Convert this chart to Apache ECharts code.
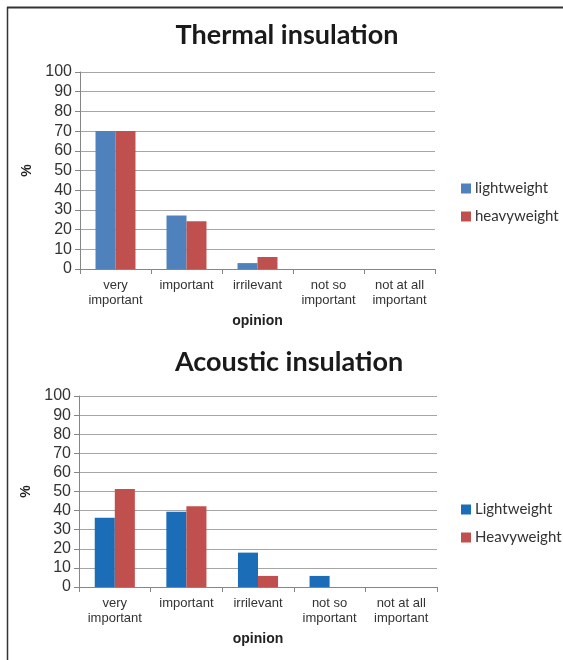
<!DOCTYPE html>
<html>
<head>
<meta charset="utf-8">
<script src="https://cdn.jsdelivr.net/npm/echarts@6/dist/echarts.min.js"></script>
<style>
html,body{margin:0;padding:0;background:#fff;}
#chart{width:563px;height:660px;}
</style>
</head>
<body>
<div id="chart"></div>
<script>
var categories = ['very\nimportant', 'important', 'irrilevant', 'not so\nimportant', 'not at all\nimportant'];
var yTicks = [0, 10, 20, 30, 40, 50, 60, 70, 80, 90, 100];
var thermalLight = [70, 27.2, 3, 0, 0];
var thermalHeavy = [70, 24.2, 6.1, 0, 0];
var acousticLight = [36.2, 39.4, 18, 5.8, 0];
var acousticHeavy = [51.3, 42.3, 5.8, 0, 0];
var topNames = ['lightweight', 'heavyweight'];
var bottomNames = ['Lightweight', 'Heavyweight'];

var chart = echarts.init(document.getElementById('chart'), null, {renderer: 'canvas'});

function xAxisDef(gi) {
  return {
    type: 'category', gridIndex: gi, data: categories,
    axisLine: {lineStyle: {color: '#868686', width: 1}},
    axisTick: {show: true, alignWithLabel: false, length: 5, lineStyle: {color: '#868686'}},
    axisLabel: {color: '#333', fontFamily: 'Liberation Sans', fontSize: 13, lineHeight: 15, margin: 9, interval: 0},
    name: 'opinion', nameLocation: 'middle', nameGap: 45,
    nameTextStyle: {fontFamily: 'Liberation Sans', fontWeight: 'bold', fontSize: 14, color: '#222'}
  };
}
function yAxisDef(gi) {
  return {
    type: 'value', gridIndex: gi, min: yTicks[0], max: yTicks[yTicks.length - 1], interval: 10,
    axisLine: {show: true, lineStyle: {color: '#868686', width: 1}},
    axisTick: {show: true, length: 5, lineStyle: {color: '#868686'}},
    splitLine: {show: true, lineStyle: {color: '#A6A6A6', width: 1}},
    axisLabel: {color: '#333', fontFamily: 'Liberation Sans', fontSize: 16, margin: 8},
    name: '%', nameLocation: 'middle', nameGap: 45, nameRotate: 90,
    nameTextStyle: {fontFamily: 'Liberation Sans', fontWeight: 'bold', fontSize: 14, color: '#222'}
  };
}

var option = {
  animation: false,
  title: [
    {text: 'Thermal insulation', left: 282, top: 17, textAlign: 'center',
     textStyle: {fontFamily: 'Lato', fontWeight: 'bold', fontSize: 27, color: '#1a1a1a'}},
    {text: 'Acoustic insulation', left: 284, top: 344, textAlign: 'center',
     textStyle: {fontFamily: 'Lato', fontWeight: 'bold', fontSize: 27, color: '#1a1a1a'}}
  ],
  legend: [
    {data: topNames, orient: 'vertical', left: 456, top: 176, itemWidth: 10, itemHeight: 10, itemGap: 13,
     icon: 'rect', itemStyle: {borderWidth: 0},
     textStyle: {fontFamily: 'Lato', fontSize: 15, color: '#333', padding: [0, 0, 0, -1]}},
    {data: bottomNames, orient: 'vertical', left: 456, top: 497, itemWidth: 10, itemHeight: 10, itemGap: 13,
     icon: 'rect', itemStyle: {borderWidth: 0},
     textStyle: {fontFamily: 'Lato', fontSize: 15, color: '#333', padding: [0, 0, 0, -1]}}
  ],
  grid: [
    {left: 80, right: 128, top: 72, height: 197},
    {left: 79, right: 126, top: 396, height: 191}
  ],
  xAxis: [xAxisDef(0), xAxisDef(1)],
  yAxis: [yAxisDef(0), yAxisDef(1)],
  series: [
    {name: topNames[0], type: 'bar', xAxisIndex: 0, yAxisIndex: 0, data: thermalLight,
     barGap: '0%', barCategoryGap: '43.7%', itemStyle: {color: '#4F81BD'}},
    {name: topNames[1], type: 'bar', xAxisIndex: 0, yAxisIndex: 0, data: thermalHeavy,
     barGap: '0%', barCategoryGap: '43.7%', itemStyle: {color: '#C0504D'}},
    {name: bottomNames[0], type: 'bar', xAxisIndex: 1, yAxisIndex: 1, data: acousticLight,
     barGap: '0%', barCategoryGap: '44%', itemStyle: {color: '#1B6DB8'}},
    {name: bottomNames[1], type: 'bar', xAxisIndex: 1, yAxisIndex: 1, data: acousticHeavy,
     barGap: '0%', barCategoryGap: '44%', itemStyle: {color: '#C0504D'}}
  ],
  graphic: [
    {type: 'line', shape: {x1: 7.5, y1: 7, x2: 7.5, y2: 660}, style: {stroke: '#333', lineWidth: 1.5}},
    {type: 'line', shape: {x1: 7, y1: 7.5, x2: 563, y2: 7.5}, style: {stroke: '#333', lineWidth: 2}}
  ]
};
chart.setOption(option);
</script>
</body>
</html>
